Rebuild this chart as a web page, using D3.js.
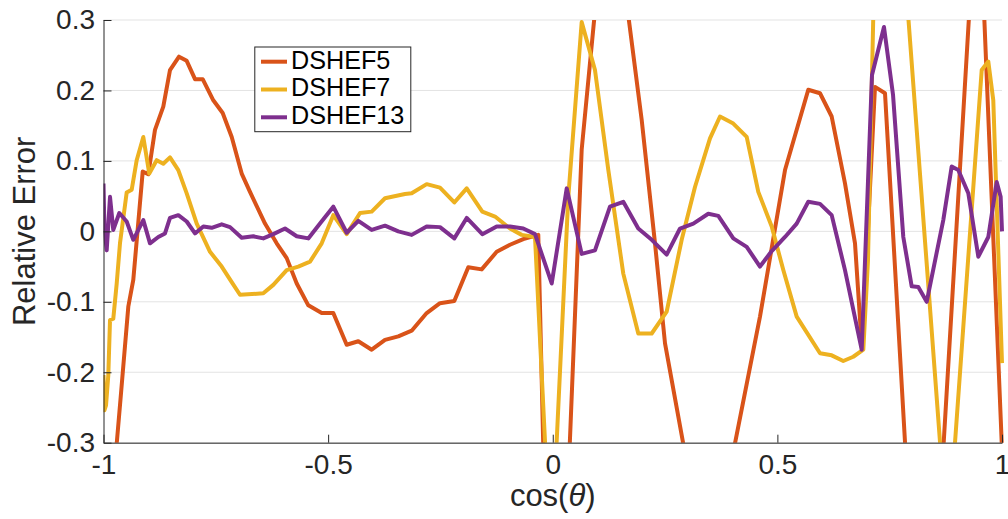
<!DOCTYPE html>
<html>
<head>
<meta charset="utf-8">
<script src="https://cdn.jsdelivr.net/npm/d3@7"></script>
<style>
  html, body { margin: 0; padding: 0; background: #fff; }
  svg { display: block; font-family: "Liberation Sans", Arial, Helvetica, sans-serif; }
</style>
</head>
<body>
<svg id="chart" width="1008" height="519"></svg>
<script>
// Series names and colours
const seriesNames = ["DSHEF5", "DSHEF7", "DSHEF13"];
const seriesColors = ["#D95319", "#EDB120", "#7E2F8E"];

// DSHEF5 relative error vs cos(theta)
const dshef5X = [-1.0, -0.9617, -0.9448, -0.9337, -0.9127, -0.9003, -0.8854, -0.8669, -0.8520, -0.8319,
  -0.8148, -0.7963, -0.7792, -0.7556, -0.7347, -0.7146, -0.6924, -0.6739, -0.6405, -0.6145,
  -0.5922, -0.5699, -0.5441, -0.5143, -0.4885, -0.4587, -0.4328, -0.4030, -0.3734, -0.3438,
  -0.3140, -0.2806, -0.2510, -0.2191, -0.1880, -0.1582, -0.1248, -0.0952, -0.0656, -0.0322,
  0.0006, 0.0644, 0.1252, 0.1980, 0.2276, 0.2499, 0.3456, 0.4613, 0.5170, 0.5688,
  0.5949, 0.6209, 0.6505, 0.6728, 0.6884, 0.7173, 0.7396, 0.8264, 0.9466, 1.0];
const dshef5Y = [-0.52, -0.235, -0.107, -0.069, 0.085, 0.081, 0.144, 0.177, 0.229, 0.248,
  0.242, 0.216, 0.216, 0.186, 0.168, 0.134, 0.082, 0.056, 0.011, -0.017,
  -0.038, -0.074, -0.105, -0.116, -0.116, -0.161, -0.156, -0.168, -0.154, -0.149,
  -0.141, -0.116, -0.102, -0.099, -0.051, -0.054, -0.029, -0.019, -0.011, -0.005,
  -0.89, 0.116, 0.52, 0.158, -0.017, -0.159, -0.495, -0.121, 0.087, 0.201,
  0.196, 0.163, 0.068, -0.017, -0.168, 0.205, 0.196, -0.77, 0.52, -0.31];

// DSHEF7 relative error vs cos(theta)
const dshef7X = [-1.0, -0.998, -0.9944, -0.9893, -0.9855, -0.9782, -0.9706, -0.9633, -0.9484, -0.9372,
  -0.9261, -0.9114, -0.8981, -0.8816, -0.8669, -0.8520, -0.8335, -0.8148, -0.7925, -0.7629,
  -0.7369, -0.7146, -0.6962, -0.6443, -0.6220, -0.5922, -0.5664, -0.5403, -0.5143, -0.4885,
  -0.4587, -0.4290, -0.4030, -0.3734, -0.3289, -0.3140, -0.2806, -0.2510, -0.2191, -0.1915,
  -0.1568, -0.1285, -0.0952, -0.0691, -0.0395, -0.0041, 0.0346, 0.0644, 0.0940, 0.1237,
  0.1570, 0.1904, 0.2203, 0.2536, 0.2870, 0.3166, 0.3500, 0.3723, 0.4019, 0.4317,
  0.4575, 0.4874, 0.5132, 0.5430, 0.5949, 0.6209, 0.6467, 0.6690, 0.6913, 0.7017,
  0.7310, 0.8791, 0.9548, 0.9695, 0.9806, 1.0];
const dshef7Y = [-0.204, -0.254, -0.247, -0.204, -0.126, -0.124, -0.074, -0.017, 0.055, 0.059,
  0.101, 0.134, 0.082, 0.101, 0.096, 0.105, 0.087, 0.054, 0.011, -0.029,
  -0.050, -0.072, -0.090, -0.088, -0.076, -0.055, -0.050, -0.043, -0.017, 0.023,
  -0.004, 0.026, 0.028, 0.047, 0.053, 0.054, 0.067, 0.062, 0.041, 0.061,
  0.028, 0.021, 0.004, -0.005, -0.008, -0.47, 0.049, 0.297, 0.229, 0.087,
  -0.060, -0.145, -0.145, -0.114, -0.012, 0.063, 0.132, 0.163, 0.153, 0.134,
  0.056, 0.007, -0.055, -0.121, -0.173, -0.176, -0.184, -0.178, -0.168, -0.041,
  0.82, -0.445, 0.229, 0.241, 0.186, -0.187];

// DSHEF13 relative error vs cos(theta)
const dshef13X = [-1.0, -0.998, -0.9929, -0.9855, -0.9782, -0.9648, -0.9484, -0.9337, -0.9114, -0.8965,
  -0.8780, -0.8631, -0.8520, -0.8335, -0.8148, -0.7963, -0.7778, -0.7592, -0.7369, -0.7184,
  -0.6924, -0.6666, -0.6443, -0.6220, -0.5960, -0.5699, -0.5441, -0.5181, -0.4885, -0.4587,
  -0.4328, -0.4030, -0.3734, -0.3438, -0.3140, -0.2806, -0.2510, -0.2191, -0.1915, -0.1568,
  -0.1248, -0.0952, -0.0656, -0.0395, -0.0023, 0.0311, 0.0644, 0.0940, 0.1274, 0.1570,
  0.1904, 0.2203, 0.2536, 0.2833, 0.3129, 0.3462, 0.3685, 0.4019, 0.4317, 0.4613,
  0.4874, 0.5170, 0.5430, 0.5688, 0.5949, 0.6209, 0.6505, 0.6877, 0.7106, 0.7373,
  0.7574, 0.7803, 0.7990, 0.8137, 0.8324, 0.8693, 0.8880, 0.9027, 0.9250, 0.9473,
  0.9695, 0.9882, 0.9970, 1.0];
const dshef13Y = [0.068, 0.005, -0.027, 0.049, 0.002, 0.026, 0.014, -0.012, 0.016, -0.017,
  -0.008, -0.003, 0.019, 0.023, 0.014, -0.003, 0.007, 0.005, 0.010, 0.006,
  -0.009, -0.007, -0.010, -0.004, 0.004, -0.007, -0.010, 0.011, 0.035, -0.002,
  0.015, 0.002, 0.008, 0.000, -0.005, 0.007, 0.006, -0.010, 0.019, -0.004,
  0.007, 0.007, 0.004, -0.004, -0.074, 0.061, -0.032, -0.027, 0.035, 0.042,
  0.004, -0.012, -0.033, 0.004, 0.011, 0.025, 0.022, -0.010, -0.022, -0.050,
  -0.028, -0.008, 0.011, 0.042, 0.039, 0.023, -0.055, -0.168, 0.222, 0.290,
  0.194, -0.008, -0.078, -0.079, -0.100, 0.016, 0.092, 0.087, 0.054, -0.036,
  -0.008, 0.070, 0.049, 0.000];

// Axis ticks and labels
const xTicks = [-1, -0.5, 0, 0.5, 1];
const xTickLabels = ["-1", "-0.5", "0", "0.5", "1"];
const yTicks = [-0.3, -0.2, -0.1, 0, 0.1, 0.2, 0.3];
const yTickLabels = ["-0.3", "-0.2", "-0.1", "0", "0.1", "0.2", "0.3"];
const xLabel = "cos(";
const xLabelSymbol = "θ";
const yLabel = "Relative Error";

const series = [
  { name: seriesNames[0], color: seriesColors[0], pts: d3.zip(dshef5X, dshef5Y) },
  { name: seriesNames[1], color: seriesColors[1], pts: d3.zip(dshef7X, dshef7Y) },
  { name: seriesNames[2], color: seriesColors[2], pts: d3.zip(dshef13X, dshef13Y) }
];

const svg = d3.select("#chart");
const box = { left: 103.5, right: 1002, top: 20, bottom: 442.7 };
const axisColor = "#262626";

const x = d3.scaleLinear().domain([-1, 1]).range([box.left, box.right]);
const y = d3.scaleLinear().domain([-0.3, 0.3]).range([box.bottom, box.top]);

svg.append("rect").attr("width", 1008).attr("height", 519).attr("fill", "#fff");

// horizontal grid lines
svg.append("g")
  .selectAll("line")
  .data(yTicks)
  .join("line")
  .attr("x1", box.left).attr("x2", box.right)
  .attr("y1", d => y(d)).attr("y2", d => y(d))
  .attr("stroke", "#e3e3e3")
  .attr("stroke-width", 1);

// clip the curves to the axes area
svg.append("defs").append("clipPath").attr("id", "plotClip")
  .append("rect")
  .attr("x", box.left).attr("y", box.top)
  .attr("width", box.right - box.left + 2)
  .attr("height", box.bottom - box.top);

const line = d3.line().x(d => x(d[0])).y(d => y(d[1]));

svg.append("g")
  .attr("clip-path", "url(#plotClip)")
  .selectAll("path")
  .data(series)
  .join("path")
  .attr("d", d => line(d.pts))
  .attr("fill", "none")
  .attr("stroke", d => d.color)
  .attr("stroke-width", 4)
  .attr("stroke-linejoin", "round")
  .attr("stroke-linecap", "butt");

// axes
const xAxis = d3.axisBottom(x)
  .tickValues(xTicks)
  .tickFormat((d, i) => xTickLabels[i])
  .tickSize(-8).tickSizeOuter(0).tickPadding(11.4);
const yAxis = d3.axisLeft(y)
  .tickValues(yTicks)
  .tickFormat((d, i) => yTickLabels[i])
  .tickSize(-8).tickSizeOuter(0).tickPadding(8.5);

const gx = svg.append("g").attr("transform", `translate(0,${box.bottom})`).call(xAxis);
const gy = svg.append("g").attr("transform", `translate(${box.left},0)`).call(yAxis);

[gx, gy].forEach(g => {
  g.attr("font-family", null).attr("font-size", null);
  g.select(".domain").attr("stroke", axisColor).attr("stroke-width", 1);
  g.selectAll(".tick line").attr("stroke", axisColor).attr("stroke-width", 1);
  g.selectAll(".tick text")
    .attr("fill", axisColor)
    .style("font-size", "28px");
});

// axis titles
svg.append("text")
  .attr("x", (box.left + box.right) / 2)
  .attr("y", 506)
  .attr("text-anchor", "middle")
  .attr("fill", axisColor)
  .style("font-size", "31px")
  .call(t => {
    t.append("tspan").text(xLabel);
    t.append("tspan").attr("font-style", "italic").text(xLabelSymbol);
    t.append("tspan").text(")");
  });

svg.append("text")
  .attr("transform", `translate(35,${(box.top + box.bottom) / 2}) rotate(-90)`)
  .attr("text-anchor", "middle")
  .attr("fill", axisColor)
  .style("font-size", "31px")
  .text(yLabel);

// legend
const legend = svg.append("g");
legend.append("rect")
  .attr("x", 254.8).attr("y", 47)
  .attr("width", 156).attr("height", 84.7)
  .attr("fill", "#fff")
  .attr("stroke", axisColor)
  .attr("stroke-width", 1);

const rows = legend.selectAll("g.row")
  .data(series)
  .join("g")
  .attr("class", "row")
  .attr("transform", (d, i) => `translate(0,${61.7 + i * 27.8})`);

rows.append("line")
  .attr("x1", 261).attr("x2", 287)
  .attr("y1", 0).attr("y2", 0)
  .attr("stroke", d => d.color)
  .attr("stroke-width", 4);

rows.append("text")
  .attr("x", 291)
  .attr("y", 6.8)
  .attr("fill", "#000")
  .style("font-size", "25.2px")
  .text(d => d.name);
</script>
</body>
</html>
